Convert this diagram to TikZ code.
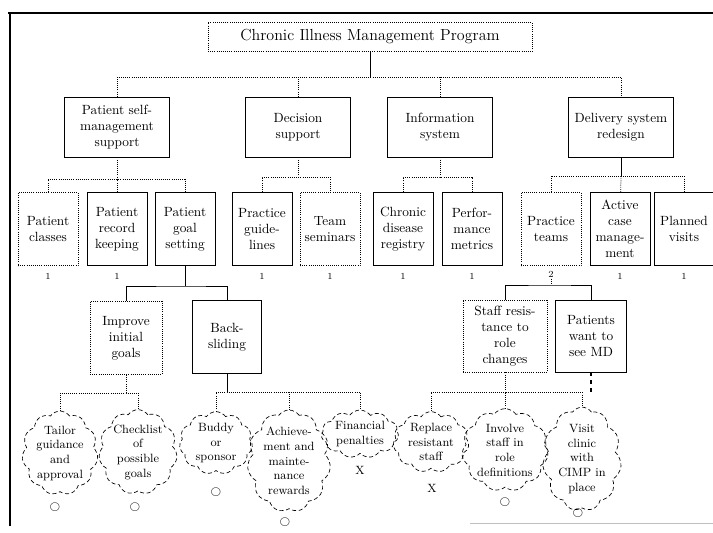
\documentclass[tikz,border=0pt]{standalone}
\usetikzlibrary{shapes.symbols}
\tikzset{
  box/.style={draw, line width=0.6pt, align=center, inner sep=1pt},
  headbox/.style={box, minimum width=79pt, minimum height=45pt},
  subbox/.style={box, minimum width=45pt, minimum height=55pt},
  idea/.style={draw, densely dashed, line width=0.5pt, cloud, cloud puffs=11,
    cloud puff arc=110, cloud ignores aspect, align=center, inner sep=0pt, font=\small},
  link/.style={line width=0.7pt},
  faint/.style={line width=0.6pt, densely dotted},
  tally/.style={font=\scriptsize, inner sep=1pt}
}
\begin{document}
\begin{tikzpicture}[x=0.75pt, y=-0.75pt]
  \useasboundingbox (0,0) rectangle (713,532);

  \draw[line width=1pt] (8,13) -- (713,13);
  \draw[line width=1pt] (10,13) -- (10,526);
  \draw[gray!50] (470,523) -- (713,523);

  \node[box, densely dotted, minimum width=243pt, minimum height=22pt, font=\large] (program) at (370,37) {Chronic Illness Management Program};

  \node[headbox] (patient) at (117,127) {Patient self-\\management\\support};
  \node[headbox] (decision) at (298,127) {Decision\\support};
  \node[headbox] (info) at (440,127) {Information\\system};
  \node[headbox] (delivery) at (621,127) {Delivery system\\redesign};

  \node[subbox, densely dotted] (classes) at (48,229) {Patient\\classes};
  \node[subbox] (record) at (117,229) {Patient\\record\\keeping};
  \node[subbox] (goal) at (185,229) {Patient\\goal\\setting};
  \node[subbox] (guide) at (262,229) {Practice\\guide-\\lines};
  \node[subbox, densely dotted] (seminars) at (330,229) {Team\\seminars};
  \node[subbox] (registry) at (403,229) {Chronic\\disease\\registry};
  \node[subbox] (metrics) at (472,229) {Perfor-\\mance\\metrics};
  \node[subbox, densely dotted] (teams) at (551,229) {Practice\\teams};
  \node[subbox] (casemgmt) at (620,229) {Active\\case\\manage-\\ment};
  \node[subbox] (planned) at (684,229) {Planned\\visits};

  \node[tally] (m1) at (48,276) {1};
  \node[tally] (m2) at (117,276) {1};
  \node[tally] (m3) at (262,276) {1};
  \node[tally] (m4) at (330,276) {1};
  \node[tally] (m5) at (403,276) {1};
  \node[tally] (m6) at (472,276) {1};
  \node[tally] (m7) at (551,274) {2};
  \node[tally] (m8) at (620,276) {1};
  \node[tally] (m9) at (684,276) {1};

  \node[box, densely dotted, minimum width=54pt, minimum height=55pt] (improve) at (126,338) {Improve\\initial\\goals};
  \node[box, minimum width=52pt, minimum height=55pt] (backslide) at (227,337) {Back-\\sliding};
  \node[box, densely dotted, minimum width=63pt, minimum height=54pt] (staff) at (505,336) {Staff resis-\\tance to\\role\\changes};
  \node[box, minimum width=53pt, minimum height=54pt] (seemd) at (591,336) {Patients\\want to\\see MD};

  \node[idea, minimum width=57pt, minimum height=58pt] (tailor) at (60,453) {Tailor\\guidance\\and\\approval};
  \node[idea, minimum width=58pt, minimum height=56pt] (checklist) at (138,452) {Checklist\\of\\possible\\goals};
  \node[idea, minimum width=55pt, minimum height=44pt] (buddy) at (216,443) {Buddy\\or\\sponsor};
  \node[idea, minimum width=55pt, minimum height=74pt] (reward) at (289,461) {Achieve-\\ment and\\mainte-\\nance\\rewards};
  \node[idea, minimum width=58pt, minimum height=36pt] (penalty) at (360,434) {Financial\\penalties};
  \node[idea, minimum width=57pt, minimum height=45pt] (replace) at (431,442) {Replace\\resistant\\staff};
  \node[idea, minimum width=57pt, minimum height=57pt] (involve) at (505,450) {Involve\\staff in\\role\\definitions};
  \node[idea, minimum width=57pt, minimum height=69pt] (visit) at (582,459) {Visit\\clinic\\with\\CIMP in\\place};

  \node[tally] (o1) at (55,507) {$\bigcirc$};
  \node[tally] (o2) at (135,507) {$\bigcirc$};
  \node[tally] (o3) at (216,492) {$\bigcirc$};
  \node[tally] (o4) at (285,522) {$\bigcirc$};
  \node[tally, font=\small] (x1) at (360,470) {X};
  \node[tally, font=\small] (x2) at (432,488) {X};
  \node[tally] (o5) at (505,502) {$\bigcirc$};
  \node[tally] (o6) at (578,513) {$\bigcirc$};

  \coordinate (mainbus) at (370,77);
  \coordinate (patbus) at (117,179);
  \coordinate (decbus) at (298,177);
  \coordinate (infobus) at (440,177);
  \coordinate (delbus) at (621,176);
  \coordinate (goalbus) at (185,286);
  \coordinate (teambus) at (551,285);
  \coordinate (impbus) at (126,393);
  \coordinate (slidebus) at (227,392);
  \coordinate (staffbus) at (505,392);
  \coordinate (mdend) at (591,395);

  \draw[link] (program) -- (mainbus);
  \draw[faint] (patient.north) |- (mainbus) -| (delivery.north);
  \draw[faint] (decision.north) -- (decision.north |- mainbus);
  \draw[faint] (info.north) -- (info.north |- mainbus);

  \draw[faint] (patient) -- (patbus);
  \draw[faint] (classes.north) |- (patbus) -| (goal.north);
  \draw[faint] (record) -- (patbus);
  \draw[faint] (decision) -- (decbus);
  \draw[faint] (guide.north) |- (decbus) -| (seminars.north);
  \draw[faint] (info) -- (infobus);
  \draw[faint] (registry.north) |- (infobus) -| (metrics.north);
  \draw[link] (delivery) -- (delbus);
  \draw[faint] (teams.north) |- (delbus) -| (planned.north);
  \draw[faint] (casemgmt) -- (delbus);

  \draw[link] (goal) -- (goalbus);
  \draw[link] (improve.north) |- (goalbus) -| (backslide.north);
  \draw[faint] (m7) -- (teambus);
  \draw[link] (staff.north) |- (teambus) -| (seemd.north);
  \draw[dashed, line width=1pt] (seemd) -- (mdend);

  \draw[faint] (improve) -- (impbus);
  \draw[faint] (tailor.north) |- (impbus) -| (checklist.north);
  \draw[link] (backslide) -- (slidebus);
  \draw[faint] (buddy.north) |- (slidebus) -| (penalty.north);
  \draw[faint] (reward) -- (reward.north |- slidebus);
  \draw[faint] (staff) -- (staffbus);
  \draw[faint] (replace.north) |- (staffbus) -| (visit.north);
  \draw[faint] (involve) -- (staffbus);
\end{tikzpicture}
\end{document}
